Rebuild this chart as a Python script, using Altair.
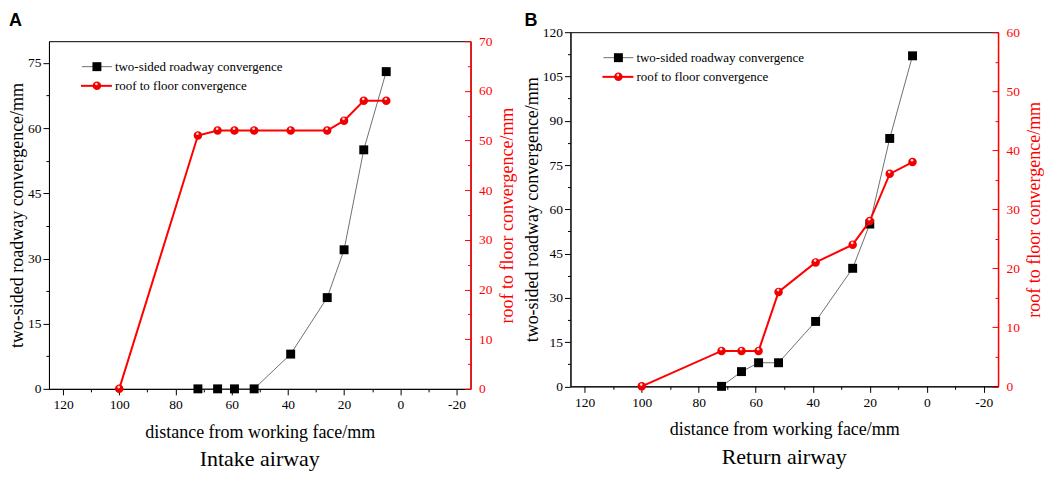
import altair as alt
import pandas as pd

# ---- data ----
dist_roof = [100, 72, 65, 59, 52, 39, 26, 20, 13, 5]
dist_two = [72, 65, 59, 52, 39, 26, 20, 13, 5]

two_sided_a = [0, 0, 0, 0, 8, 21, 32, 55, 73]
roof_a = [0, 51, 52, 52, 52, 52, 52, 54, 58, 58]

two_sided_b = [0, 5, 8, 8, 22, 40, 55, 84, 112]
roof_b = [0, 6, 6, 6, 16, 21, 24, 28, 36, 38]

series_names = ["two-sided roadway convergence", "roof to floor convergence"]
x_title = "distance from working face/mm"
yl_title = "two-sided roadway convergence/mm"
yr_title = "roof to floor convergence/mm"
panel_letters = ["A", "B"]
panel_titles = ["Intake airway", "Return airway"]

x_domain = [125, -25]
x_major = [120, 100, 80, 60, 40, 20, 0, -20]
x_minor = [110, 90, 70, 50, 30, 10, -10]

yl_a_domain = [0, 80]
yl_a_major = [0, 15, 30, 45, 60, 75]
yl_a_minor = [7.5, 22.5, 37.5, 52.5, 67.5]
yr_a_domain = [0, 70]
yr_a_major = [0, 10, 20, 30, 40, 50, 60, 70]
yr_a_minor = [5, 15, 25, 35, 45, 55, 65]

yl_b_domain = [0, 120]
yl_b_major = [0, 15, 30, 45, 60, 75, 90, 105, 120]
yl_b_minor = [7.5, 22.5, 37.5, 52.5, 67.5, 82.5, 97.5, 112.5]
yr_b_domain = [0, 60]
yr_b_major = [0, 10, 20, 30, 40, 50, 60]
yr_b_minor = [5, 15, 25, 35, 45, 55]

SERIF = "Liberation Serif"
RED = "#ff0000"


def tick_size(step, major, minor):
    return {"condition": {"test": f"datum.value % {step} === 0", "value": major}, "value": minor}


def label_expr(step):
    return f"datum.value % {step} === 0 ? '' + datum.value : ''"


def letter_mark(letter, lx, ly):
    return alt.Chart(pd.DataFrame({"t": [letter]})).mark_text(
        font="Liberation Sans", fontWeight="bold", fontSize=18, align="left", baseline="top",
        color="black").encode(text="t:N", x=alt.value(lx), y=alt.value(ly))


def panel(subtitle, two_vals, roof_vals,
          yl_dom, yl_major, yl_minor, yl_step,
          yr_dom, yr_major, yr_minor, yr_step, w, h, extra=()):
    df_two = pd.DataFrame({"d": dist_two, "v": two_vals})
    df_roof = pd.DataFrame({"d": dist_roof, "v": roof_vals})

    x_enc = alt.X(
        "d:Q",
        scale=alt.Scale(domain=x_domain, nice=False, zero=False),
        axis=alt.Axis(
            title=x_title, values=sorted(x_major + x_minor), labelExpr=label_expr(20),
            tickSize=tick_size(20, 6, 3), labelPadding=3, labelFontSize=13.5,
            labelFont=SERIF, titleFont=SERIF, titleFontWeight="normal",
            titleFontSize=18, titlePadding=12, domainColor="black", tickColor="black",
            labelColor="black", titleColor="black", labelFlush=False,
        ),
    )

    yl = alt.Y(
        "v:Q",
        scale=alt.Scale(domain=yl_dom, nice=False, zero=False),
        axis=alt.Axis(
            title=yl_title, orient="left", values=sorted(yl_major + yl_minor),
            labelExpr=label_expr(yl_step), tickSize=tick_size(yl_step, 6, 3),
            labelFont=SERIF, titleFont=SERIF, titleFontWeight="normal",
            labelPadding=2, labelFontSize=13.5, titleFontSize=18, titlePadding=1,
            domainColor="black", tickColor="black", labelColor="black", titleColor="black",
            labelFlush=False,
        ),
    )
    yr = alt.Y(
        "v:Q",
        scale=alt.Scale(domain=yr_dom, nice=False, zero=False),
        axis=alt.Axis(
            title=yr_title, orient="right", values=sorted(yr_major + yr_minor),
            labelExpr=label_expr(yr_step), tickSize=tick_size(yr_step, -6, -3),
            labelFont=SERIF, titleFont=SERIF, titleFontWeight="normal",
            labelPadding=14, labelFontSize=13.5, titleFontSize=18, titlePadding=6,
            titleAngle=270, titleBaseline="top",
            domainColor=RED, domainWidth=1.5, tickColor=RED, labelColor=RED, titleColor=RED,
            labelFlush=False,
        ),
    )

    base_two = alt.Chart(df_two).encode(x=x_enc, y=yl)
    two_line = base_two.mark_line(color="#707070", strokeWidth=1)
    two_pts = base_two.mark_point(shape="square", filled=True, color="black", size=80, opacity=1)
    left = alt.layer(two_line, two_pts)

    base_roof = alt.Chart(df_roof).encode(x=x_enc, y=yr)
    roof_line = base_roof.mark_line(color=RED, strokeWidth=2)
    roof_pts = base_roof.mark_point(shape="circle", filled=True, color="#f20000", size=72, opacity=1)
    roof_hl = base_roof.mark_point(shape="circle", filled=True, color="white", size=7, opacity=0.85,
                                   xOffset=-0.5, yOffset=-1.8)
    right = alt.layer(roof_line, roof_pts, roof_hl)

    # legend (inside plot, top-left)
    rows_y = [25.5, 44.7]
    leg = []
    for i, name in enumerate(series_names):
        lb = alt.Chart(pd.DataFrame({"name": [name]}))
        if i == 0:
            leg.append(lb.mark_rule(color="#707070", strokeWidth=1).encode(
                x=alt.value(33), x2=alt.value(63), y=alt.value(rows_y[i])))
            leg.append(lb.mark_point(shape="square", filled=True, color="black", size=80, opacity=1).encode(
                x=alt.value(48), y=alt.value(rows_y[i])))
        else:
            leg.append(lb.mark_rule(color=RED, strokeWidth=2).encode(
                x=alt.value(32), x2=alt.value(63), y=alt.value(rows_y[i])))
            leg.append(lb.mark_point(shape="circle", filled=True, color="#f20000", size=72, opacity=1).encode(
                x=alt.value(48), y=alt.value(rows_y[i])))
            leg.append(lb.mark_point(shape="circle", filled=True, color="white", size=7, opacity=0.85,
                                     xOffset=-0.5, yOffset=-1.8).encode(
                x=alt.value(48), y=alt.value(rows_y[i])))
        leg.append(lb.mark_text(font=SERIF, fontSize=13, align="left", baseline="middle", color="black").encode(
            text="name:N", x=alt.value(66), y=alt.value(rows_y[i])))

    return alt.layer(left, right, *leg, *extra).resolve_scale(y="independent").properties(
        width=w, height=h,
        title=alt.TitleParams(text=subtitle, orient="bottom", anchor="middle", frame="group",
                              font=SERIF, fontSize=22, fontWeight="normal", color="black", offset=8),
    )


pa = panel(panel_titles[0], two_sided_a, roof_a,
           yl_a_domain, yl_a_major, yl_a_minor, 15,
           yr_a_domain, yr_a_major, yr_a_minor, 10,
           422, 348)
pb = panel(panel_titles[1], two_sided_b, roof_b,
           yl_b_domain, yl_b_major, yl_b_minor, 15,
           yr_b_domain, yr_b_major, yr_b_minor, 10,
           428, 354.5, extra=(letter_mark(panel_letters[1], -46, -20),))

# thin strip above panel A carrying its letter (lets panel A sit a little lower than B)
strip_a = letter_mark(panel_letters[0], -40, -20).properties(
    width=1, height=1, view=alt.ViewBackground(strokeWidth=0, strokeOpacity=0))
col_a = alt.vconcat(strip_a, pa, spacing=0)

chart = alt.hconcat(col_a, pb, spacing=6).properties(
    padding={"top": 3, "left": 0, "right": 0, "bottom": 0}
).configure_view(
    stroke="black", strokeWidth=1
).configure_axis(grid=False, labelFont=SERIF, titleFont=SERIF, titleFontWeight="normal")

chart.save("out.html", embed_options={"renderer": "svg", "actions": False})
